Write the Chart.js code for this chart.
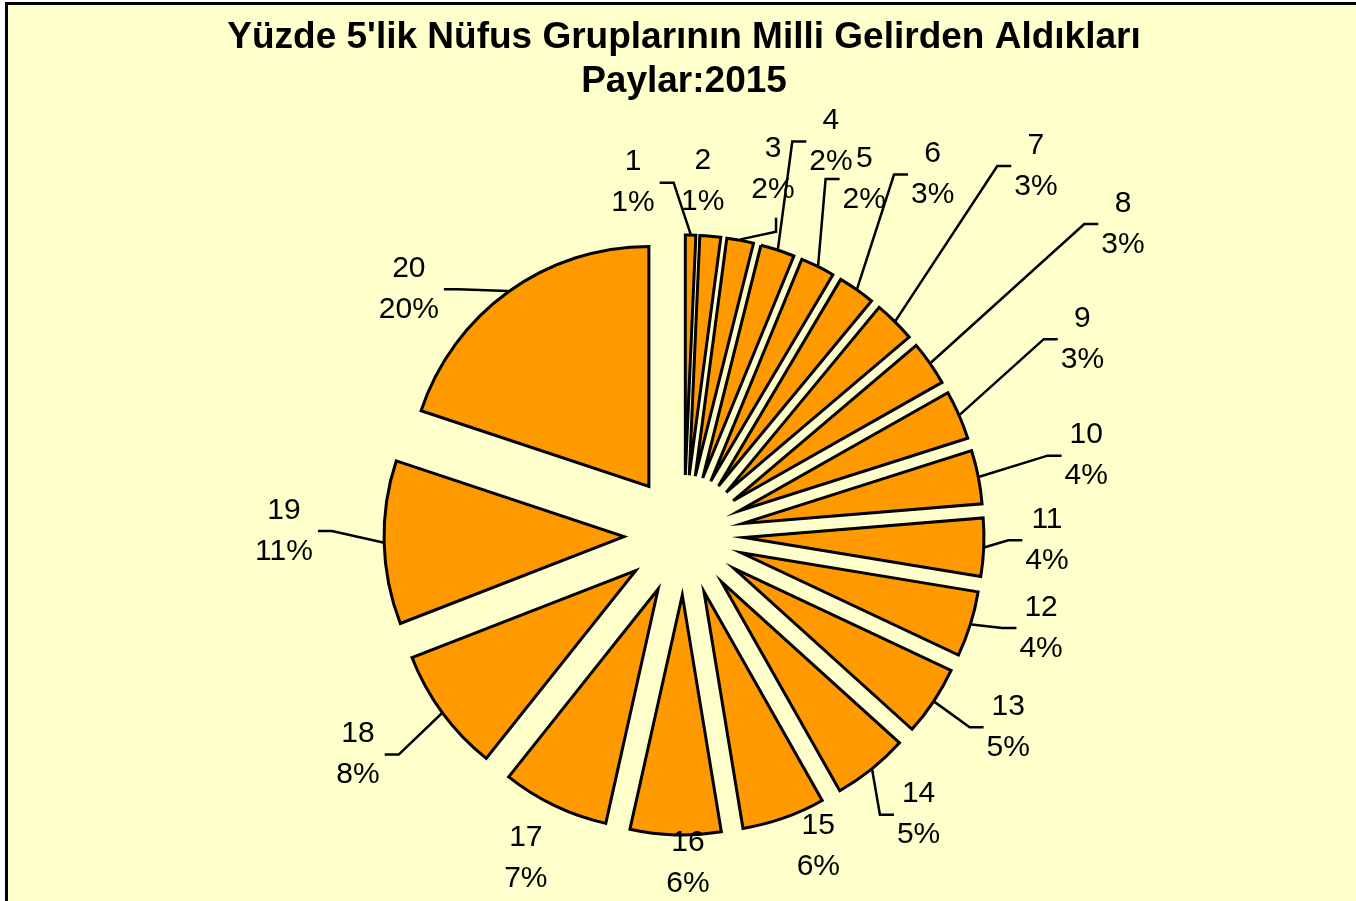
<!DOCTYPE html>
<html>
<head>
<meta charset="utf-8">
<script src="https://cdn.jsdelivr.net/npm/chart.js@4.4.1/dist/chart.umd.min.js"></script>
<style>
  html, body { margin: 0; padding: 0; background: #fff; }
  #wrap { width: 1356px; height: 901px; }
</style>
</head>
<body>
<div id="wrap"><canvas id="pie"></canvas></div>
<script>
var groups = ['1', '2', '3', '4', '5', '6', '7', '8', '9', '10',
              '11', '12', '13', '14', '15', '16', '17', '18', '19', '20'];
var shares = [0.7, 1.4, 1.8, 2.3, 2.3, 2.5, 2.8, 3.0, 3.3, 3.6,
              3.9, 4.4, 4.7, 5.1, 5.6, 6.1, 7.2, 8.4, 11.0, 19.9];
var titleLines = ["Yüzde 5'lik Nüfus Gruplarının Milli Gelirden Aldıkları", 'Paylar:2015'];

// labels were moved by hand in the original, so each one gets a distance from the centre
// and a small turn away from the middle of its slice (degrees)
var labelDist = [356, 354, 376, 420, 399, 438, 510, 538, 444, 410,
                 363, 369, 377, 365, 339, 328, 360, 393, 400, 369];
var labelTurn = [-9.5, -2, 2.9, 2.3, 0.4, -0.5, -1, -0.4, -2.6, 0,
                 -1.5, -2.7, -3, -1.3, -3.9, -2.3, 0.5, 2.4, 2, -12.4];
// where the leader line meets the label: W = left side, E = right side, S = below, '' = none
var leader = ['E', '', 'S', 'W', 'W', 'W', 'W', 'W', 'W', 'W',
              'W', 'W', 'W', 'W', '', '', '', 'E', 'E', 'E'];

var EXPLODE = 60;
var FONT = '"Liberation Sans", Arial, sans-serif';

var frame = {
  id: 'frame',
  beforeDraw: function(chart) {
    var c = chart.ctx;
    c.save();
    c.fillStyle = '#ffffff';
    c.fillRect(0, 0, chart.width, chart.height);
    c.fillStyle = '#FFFFCC';
    c.fillRect(6, 3, chart.width, chart.height);
    c.strokeStyle = '#000';
    c.lineWidth = 3;
    c.strokeRect(6.5, 3.5, chart.width + 20, chart.height + 20);
    c.restore();
  }
};

// pull every slice out from the centre along its middle angle
var explode = {
  id: 'explode',
  afterDatasetUpdate: function(chart, args) {
    chart.getDatasetMeta(args.index).data.forEach(function(arc) {
      var mid = (arc.startAngle + arc.endAngle) / 2;
      arc.x += Math.cos(mid) * EXPLODE;
      arc.y += Math.sin(mid) * EXPLODE;
    });
  }
};

var sliceLabels = {
  id: 'sliceLabels',
  afterDatasetsDraw: function(chart) {
    var c = chart.ctx, a = chart.chartArea;
    var cx = (a.left + a.right) / 2, cy = (a.top + a.bottom) / 2;
    var total = shares.reduce(function(s, v) { return s + v; }, 0);
    c.save();
    c.font = '30px ' + FONT;
    c.fillStyle = '#000';
    c.strokeStyle = '#000';
    c.lineWidth = 2.5;
    c.textAlign = 'center';
    c.textBaseline = 'middle';
    chart.getDatasetMeta(0).data.forEach(function(arc, i) {
      var mid = (arc.startAngle + arc.endAngle) / 2;
      var ang = mid + labelTurn[i] * Math.PI / 180;
      var lx = cx + Math.cos(ang) * labelDist[i];
      var ly = cy + Math.sin(ang) * labelDist[i];
      var pct = Math.round(shares[i] / total * 100) + '%';
      c.fillText(groups[i], lx, ly - 20.5);
      c.fillText(pct, lx, ly + 20.5);

      var kind = leader[i];
      if (!kind) return;
      var hw = Math.max(c.measureText(groups[i]).width, c.measureText(pct).width) / 2;
      var px = arc.x + Math.cos(mid) * (arc.outerRadius + 1);
      var py = arc.y + Math.sin(mid) * (arc.outerRadius + 1);
      var t0, t1;
      if (kind === 'W') { t1 = [lx - hw - 3, ly]; t0 = [t1[0] - 14, ly]; }
      else if (kind === 'E') { t1 = [lx + hw + 5, ly]; t0 = [t1[0] + 14, ly]; }
      else { t1 = [lx + 3, ly + 48]; t0 = [lx + 3, ly + 62]; }
      c.beginPath();
      c.moveTo(px, py);
      c.lineTo(t0[0], t0[1]);
      c.lineTo(t1[0], t1[1]);
      c.stroke();
    });
    c.restore();
  }
};

new Chart(document.getElementById('pie'), {
  type: 'pie',
  data: {
    labels: groups,
    datasets: [{
      data: shares,
      backgroundColor: '#FF9900',
      borderColor: '#000000',
      borderWidth: 3,
      borderJoinStyle: 'miter',
      radius: 240
    }]
  },
  options: {
    responsive: true,
    maintainAspectRatio: false,
    animation: false,
    events: [],
    layout: { padding: { left: 12 } },
    plugins: {
      legend: { display: false },
      tooltip: { enabled: false },
      title: {
        display: true,
        text: titleLines,
        color: '#000',
        font: { family: FONT, size: 37, weight: 'bold', lineHeight: 1.19 },
        padding: { top: 16, bottom: 65 }
      }
    }
  },
  plugins: [frame, explode, sliceLabels]
});
</script>
</body>
</html>
